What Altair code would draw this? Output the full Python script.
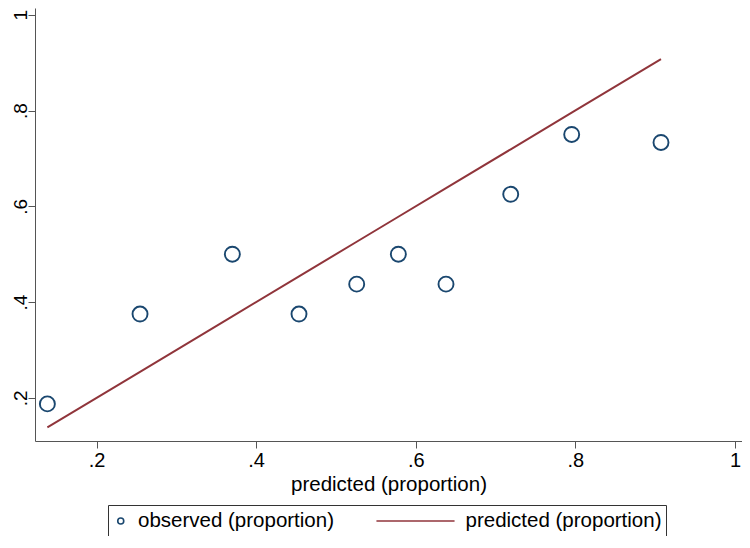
import altair as alt
import pandas as pd

# ---- data ----
predicted = [0.1384, 0.2545, 0.3702, 0.4537, 0.5260, 0.5782, 0.6379, 0.7190, 0.7954, 0.9073]
observed = [0.1875, 0.375, 0.5, 0.375, 0.4375, 0.5, 0.4375, 0.625, 0.75, 0.7333]
series = ["observed (proportion)", "predicted (proportion)"]
x_ticks = [0.2, 0.4, 0.6, 0.8, 1.0]
y_ticks = [0.2, 0.4, 0.6, 0.8, 1.0]

obs_df = pd.DataFrame({"predicted": predicted, "value": observed, "series": series[0]})
pred_df = pd.DataFrame({"predicted": predicted, "value": predicted, "series": series[1]})

NAVY = "#1a476f"
MAROON = "#90353b"
AXIS = "#555555"
FONT = "Liberation Sans"
LABEL_EXPR = "datum.value >= 1 ? '1' : substring(format(datum.value, '.1f'), 1)"

x_enc = alt.X(
    "predicted:Q",
    scale=alt.Scale(domain=[0.1229, 1.0088], nice=False, zero=False),
    axis=alt.Axis(values=x_ticks, labelExpr=LABEL_EXPR, title="predicted (proportion)",
                  labelPadding=2, titlePadding=4, tickSize=7, labelFlush=False,
                  labelFontSize=20, titleFontSize=20.5),
)
y_enc = alt.Y(
    "value:Q",
    scale=alt.Scale(domain=[0.110, 1.014], nice=False, zero=False),
    axis=alt.Axis(values=y_ticks, labelExpr=LABEL_EXPR, title=None, labelAngle=270,
                  labelAlign="center", labelBaseline="alphabetic", labelPadding=2,
                  tickSize=7, labelFlush=False, labelFontSize=19),
)

legend = alt.Legend(
    title=None, orient="none", legendX=73, legendY=497, direction="horizontal",
    labelFontSize=20.5, labelFont=FONT, labelColor="#000000", labelLimit=500,
    labelOffset=7, columnPadding=40, padding=4, clipHeight=24,
    symbolOffset=-1.5, strokeColor="#333333", fillColor="#ffffff",
    symbolStrokeWidth=1.6,
)

color = alt.Color("series:N", scale=alt.Scale(domain=series, range=[NAVY, MAROON]), legend=legend)
shape = alt.Shape("series:N", scale=alt.Scale(domain=series, range=["circle", "M-0.93,0L0.93,0"]),
                  legend=legend)
size = alt.Size("series:N", scale=alt.Scale(type="point", domain=series, range=[36, 7056], padding=0),
                legend=legend)

points = alt.Chart(obs_df).mark_point(filled=False, strokeWidth=1.9, opacity=1, size=225).encode(
    x=x_enc, y=y_enc, color=color, shape=shape
)
line = alt.Chart(pred_df).mark_line(strokeWidth=2).encode(
    x=x_enc, y=y_enc, color=color
)
# empty layer that only carries the legend symbol sizes
legend_layer = alt.Chart(alt.Data(values=[])).mark_point(filled=False).encode(
    color=color, shape=shape, size=size
)

chart = (
    alt.layer(line, points, legend_layer)
    .properties(
        width=707, height=433,
        autosize=alt.AutoSizeParams(type="none"),
        padding={"left": 27, "top": 0, "right": 0, "bottom": 95},
        background="#ffffff",
    )
    .configure_view(stroke=None)
    .configure_axis(
        grid=False, domainColor=AXIS, tickColor=AXIS, domainWidth=1, tickWidth=1,
        labelFont=FONT, labelColor="#000000",
        titleFont=FONT, titleFontWeight="normal", titleColor="#000000",
    )
)

chart.save("out.html", embed_options={"renderer": "svg", "actions": False})
